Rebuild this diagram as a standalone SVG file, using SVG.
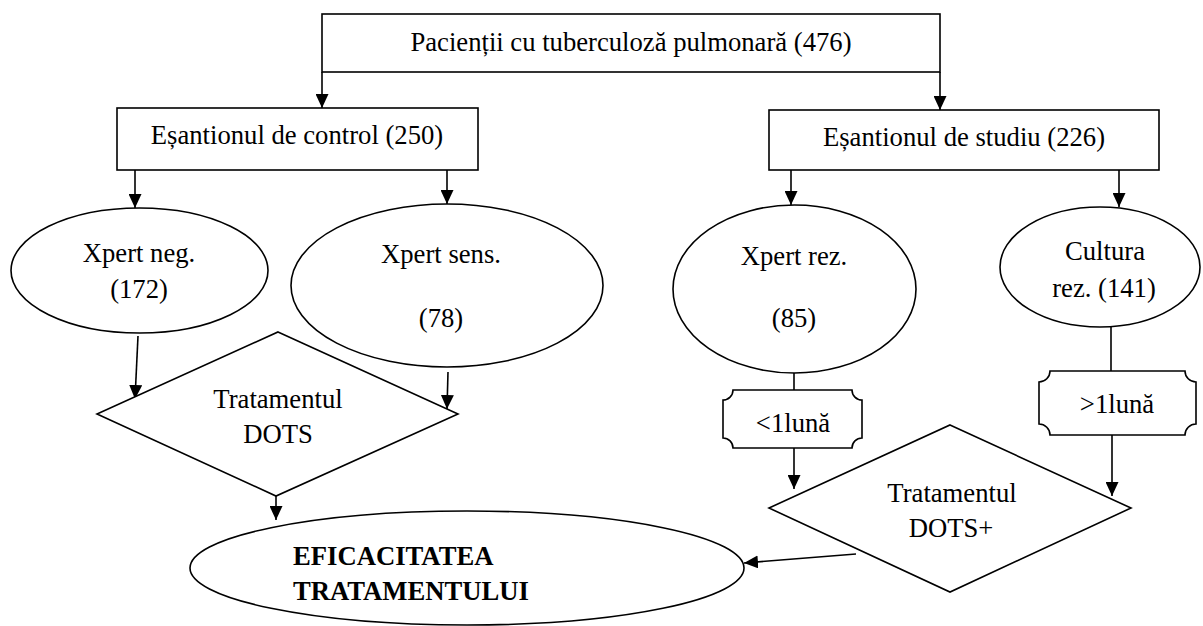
<svg xmlns="http://www.w3.org/2000/svg" width="1203" height="626" viewBox="0 0 1203 626">
<defs>
<marker id="arr" viewBox="0 0 14 13" refX="14" refY="6.5" markerWidth="14" markerHeight="13" markerUnits="userSpaceOnUse" orient="auto">
<path d="M0,0 L14,6.5 L0,13 z" fill="#000"/>
</marker>
<style>
.s{fill:#fff;stroke:#000;stroke-width:1.6}
.t{font-family:"Liberation Serif","Times New Roman",serif;font-size:26.67px;fill:#000;text-anchor:middle}
.b{font-family:"Liberation Serif","Times New Roman",serif;font-size:26.67px;font-weight:bold;fill:#000}
.c{fill:none;stroke:#000;stroke-width:1.6}
</style>
</defs>
<rect width="1203" height="626" fill="#fff"/>

<g id="connectors">
<path class="c" d="M322,72 V108" marker-end="url(#arr)"/>
<path class="c" d="M940,72 V110" marker-end="url(#arr)"/>
<path class="c" d="M135,170 V208" marker-end="url(#arr)"/>
<path class="c" d="M447,170 V204" marker-end="url(#arr)"/>
<path class="c" d="M791,170 V205" marker-end="url(#arr)"/>
<path class="c" d="M1119,170 V207" marker-end="url(#arr)"/>
<path class="c" d="M138,336 L135,399" marker-end="url(#arr)"/>
<path class="c" d="M448,372 L447,409" marker-end="url(#arr)"/>
<path class="c" d="M276,496 V520" marker-end="url(#arr)"/>
<path class="c" d="M794,373 V390"/>
<path class="c" d="M794,448 V489" marker-end="url(#arr)"/>
<path class="c" d="M1111,327 V371"/>
<path class="c" d="M1112,435 V496" marker-end="url(#arr)"/>
<path class="c" d="M856,554 L744,563" marker-end="url(#arr)"/>
</g>

<g id="pacienti">
<rect class="s" x="322" y="14" width="618" height="58"/>
<text class="t" x="631" y="51">Pacienții cu tuberculoză pulmonară (476)</text>
</g>

<g id="control">
<rect class="s" x="117" y="108" width="361" height="62"/>
<text class="t" x="297" y="144">Eșantionul de control (250)</text>
</g>

<g id="studiu">
<rect class="s" x="769" y="110" width="390" height="60"/>
<text class="t" x="964" y="146">Eșantionul de studiu (226)</text>
</g>

<g id="xpert-neg">
<ellipse class="s" cx="139.5" cy="270.5" rx="128.5" ry="62.5"/>
<text class="t" x="139" y="262">Xpert neg.</text>
<text class="t" x="139" y="298">(172)</text>
</g>

<g id="xpert-sens">
<ellipse class="s" cx="447" cy="285.5" rx="156" ry="81.5"/>
<text class="t" x="441" y="263">Xpert sens.</text>
<text class="t" x="441" y="327">(78)</text>
</g>

<g id="xpert-rez">
<ellipse class="s" cx="794.5" cy="289" rx="121.5" ry="84"/>
<text class="t" x="794" y="265">Xpert rez.</text>
<text class="t" x="794" y="327">(85)</text>
</g>

<g id="cultura">
<ellipse class="s" cx="1100" cy="267" rx="100" ry="60"/>
<text class="t" x="1105" y="260">Cultura</text>
<text class="t" x="1104" y="297">rez. (141)</text>
</g>

<g id="dots">
<polygon class="s" points="278,332 458,414 276,496 97,414"/>
<text class="t" x="278" y="408">Tratamentul</text>
<text class="t" x="278" y="443">DOTS</text>
</g>

<g id="sub-1luna">
<path class="s" d="M733,390 H852 A10,10 0 0 0 862,400 V438 A10,10 0 0 0 852,448 H733 A10,10 0 0 0 723,438 V400 A10,10 0 0 0 733,390 Z"/>
<text class="t" x="793" y="432">&lt;1lună</text>
</g>

<g id="peste-1luna">
<path class="s" d="M1050,371 H1185 A11,11 0 0 0 1196,382 V424 A11,11 0 0 0 1185,435 H1050 A11,11 0 0 0 1039,424 V382 A11,11 0 0 0 1050,371 Z"/>
<text class="t" x="1117" y="413">&gt;1lună</text>
</g>

<g id="dots-plus">
<polygon class="s" points="950,425 1131,508 950,592 769,508"/>
<text class="t" x="952" y="502">Tratamentul</text>
<text class="t" x="951" y="537">DOTS+</text>
</g>

<g id="eficacitatea">
<ellipse class="s" cx="467" cy="568" rx="277" ry="57"/>
<text class="b" x="293" y="565">EFICACITATEA</text>
<text class="b" x="293" y="600">TRATAMENTULUI</text>
</g>
</svg>
